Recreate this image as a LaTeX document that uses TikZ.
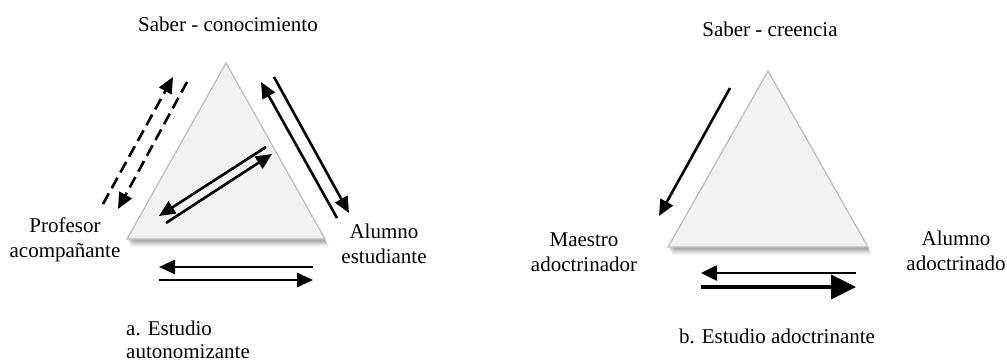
\documentclass[tikz,border=0pt]{standalone}
\usepackage{fontspec}
\setmainfont{Liberation Serif}
\usetikzlibrary{arrows.meta}
\begin{document}
\begin{tikzpicture}[x=1pt,y=-1pt,
  lbl/.style={font=\fontsize{21}{24.5}\selectfont, inner sep=0pt, align=center, anchor=base},
  lbll/.style={font=\fontsize{21}{23}\selectfont, inner sep=0pt, align=left, anchor=base west},
  arr/.style={line width=2.6pt, -{Triangle[length=16pt,width=14pt]}},
  dasharr/.style={arr, dash pattern=on 12pt off 6pt},
  bigarr/.style={line width=4.2pt, -{Triangle[length=25pt,width=24pt]}},
  medarr/.style={line width=2.6pt, -{Triangle[length=16pt,width=15pt]}},
  tri/.style={fill=gray!10, draw=gray!50, line width=1.3pt, line join=miter},
]
\useasboundingbox (0,0) rectangle (1007,361);

% ---------- left diagram ----------
\foreach \d/\o in {8/0.03,7/0.04,6/0.05,5/0.06,4/0.07,3/0.08,2/0.08}
  \fill[black,opacity=\o] (226+0.5*\d,63+\d) -- (127+0.5*\d,239+\d) -- (325+0.5*\d,239+\d) -- cycle;
\coordinate (LA) at (226,63);
\coordinate (LB) at (127,239);
\coordinate (LC) at (325,239);
\path[tri] (LA) -- (LB) -- (LC) -- cycle;

\node[lbl] (t1) at (228,32) {Saber - conocimiento};
\node[lbl] (p1) at (65,257) {Profesor\\acompañante};
\node[lbl] (a1) at (384,263) {Alumno\\estudiante};
\node[lbll] (c1) at (126,358) {a. Estudio\\autonomizante};

\coordinate (d1s) at (103,204); \coordinate (d1e) at (173,77);
\coordinate (d2s) at (187,82);  \coordinate (d2e) at (118,209);
\draw[dasharr] (d1s) -- (d1e);
\draw[dasharr] (d2s) -- (d2e);

\coordinate (r1s) at (337,218); \coordinate (r1e) at (261,82);
\coordinate (r2s) at (274,77);  \coordinate (r2e) at (349,213);
\draw[arr] (r1s) -- (r1e);
\draw[arr] (r2s) -- (r2e);

\coordinate (i1s) at (266,147); \coordinate (i1e) at (159,216);
\coordinate (i2s) at (166,223); \coordinate (i2e) at (272,154);
\draw[arr] (i1s) -- (i1e);
\draw[arr] (i2s) -- (i2e);

\coordinate (b1s) at (313,267); \coordinate (b1e) at (159,267);
\coordinate (b2s) at (159,280); \coordinate (b2e) at (313,280);
\draw[arr] (b1s) -- (b1e);
\draw[arr] (b2s) -- (b2e);

% ---------- right diagram ----------
\foreach \d/\o in {8/0.03,7/0.04,6/0.05,5/0.06,4/0.07,3/0.08,2/0.08}
  \fill[black,opacity=\o] (768+0.5*\d,71+\d) -- (668+0.5*\d,247+\d) -- (868+0.5*\d,247+\d) -- cycle;
\coordinate (RA) at (768,71);
\coordinate (RB) at (668,247);
\coordinate (RC) at (868,247);
\path[tri] (RA) -- (RB) -- (RC) -- cycle;

\node[lbl] (t2) at (770,37) {Saber - creencia};
\node[lbl] (m2) at (584,271) {Maestro\\adoctrinador};
\node[lbl] (a2) at (956,270) {Alumno\\adoctrinado};
\node[lbl] (c2) at (777,343) {b. Estudio adoctrinante};

\coordinate (s1s) at (730,88); \coordinate (s1e) at (659,216);
\draw[arr] (s1s) -- (s1e);

\coordinate (q1s) at (856,273); \coordinate (q1e) at (701,273);
\coordinate (q2s) at (701,287); \coordinate (q2e) at (856,287);
\draw[medarr] (q1s) -- (q1e);
\draw[bigarr] (q2s) -- (q2e);
\end{tikzpicture}
\end{document}
